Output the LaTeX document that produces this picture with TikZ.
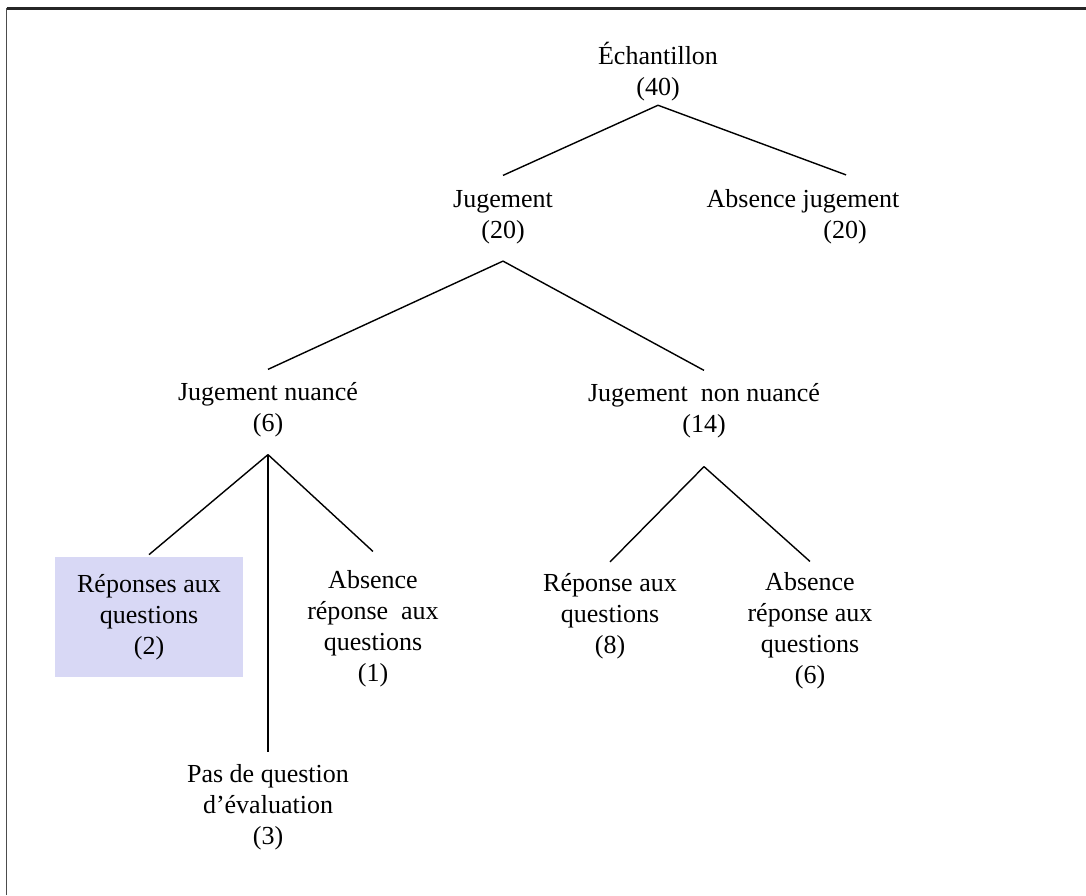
\documentclass[tikz,border=0pt]{standalone}
\usepackage{fontspec}
\setmainfont{Liberation Serif}
\definecolor{boxlilac}{RGB}{216,216,245}
\tikzset{
  txt/.style={align=center, inner sep=0pt, font=\fontsize{14.8}{17.6}\selectfont},
  branch/.style={line width=0.8pt},
}
\begin{document}
\begin{tikzpicture}
    \def\widthA{21.72}
    \def\heightA{17.9}

    \useasboundingbox (0,0) rectangle (\widthA,-\heightA);
    \draw[line width=0.9pt, black!70] (0.13,-\heightA) -- (0.13,-0.17);
    \draw[line width=1.2pt, black!85] (0.13,-0.17) -- (\widthA,-0.17);

    \node (ech) at (13.16,-1.44) [txt] {Échantillon\\(40)};
    \node (jug) at (10.06,-4.34) [txt] {Jugement\\(20)};
    \node (absj) at (16.06,-4.34) [txt] {Absence jugement\\\hspace*{1.68cm}(20)};
    \node (nua) at (5.36,-8.20) [txt] {Jugement nuancé\\(6)};
    \node (nnua) at (14.08,-8.22) [txt] {Jugement\ \ non nuancé\\(14)};

    \node (rep1) at (2.98,-12.34) [txt, fill=boxlilac, minimum width=3.76cm, minimum height=2.4cm] {Réponses aux\\questions\\(2)};
    \node (abs1) at (7.46,-12.58) [txt] {Absence\\réponse\ \ aux\\questions\\(1)};
    \node (pas) at (5.36,-16.14) [txt] {Pas de question\\d’évaluation\\(3)};
    \node (rep8) at (12.20,-12.32) [txt] {Réponse aux\\questions\\(8)};
    \node (abs6) at (16.20,-12.62) [txt] {Absence\\réponse aux\\questions\\(6)};

    \draw[branch] ([yshift=-0.07cm]ech.south) -- ([yshift=0.29cm]jug.north);
    \draw[branch] ([yshift=-0.07cm]ech.south) -- ([xshift=0.86cm, yshift=0.29cm]absj.north);
    \draw[branch] ([yshift=-0.34cm]jug.south) -- ([yshift=0.26cm]nua.north);
    \draw[branch] ([yshift=-0.34cm]jug.south) -- ([yshift=0.26cm]nnua.north);
    \draw[branch] ([yshift=-0.34cm]nua.south) -- ([yshift=0.04cm]rep1.north);
    \draw[branch] ([yshift=-0.34cm]nua.south) -- ([yshift=0.24cm]pas.north);
    \draw[branch] ([yshift=-0.34cm]nua.south) -- ([yshift=0.38cm]abs1.north);
    \draw[branch] ([yshift=-0.56cm]nnua.south) -- ([yshift=0.22cm]rep8.north);
    \draw[branch] ([yshift=-0.56cm]nnua.south) -- ([yshift=0.22cm]abs6.north);
\end{tikzpicture}
\end{document}
